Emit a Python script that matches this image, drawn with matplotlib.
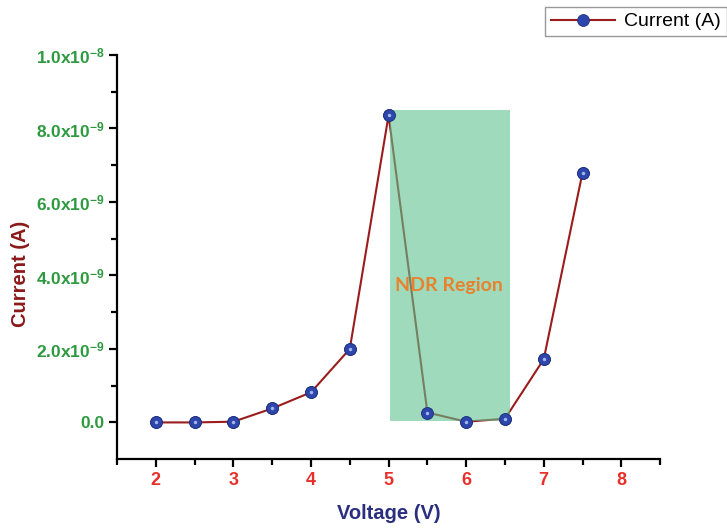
import matplotlib
matplotlib.use('Agg')
import matplotlib.pyplot as plt
from matplotlib.ticker import MultipleLocator, FixedLocator
from matplotlib.patches import Rectangle

plt.rcParams['font.family'] = ['Liberation Sans', 'DejaVu Sans']
plt.rcParams['mathtext.fontset'] = 'custom'
plt.rcParams['mathtext.rm'] = 'Liberation Sans'
plt.rcParams['mathtext.bf'] = 'Liberation Sans:bold'

# data
voltage = [2.0, 2.5, 3.0, 3.5, 4.0, 4.5, 5.0, 5.5, 6.0, 6.5, 7.0, 7.5]
current = [0.0, 0.0, 0.02e-9, 0.38e-9, 0.82e-9, 2.0e-9, 8.36e-9,
           0.27e-9, 0.02e-9, 0.10e-9, 1.72e-9, 6.8e-9]
ndr_span = [5.02, 6.57]
ndr_current = [0.03e-9, 8.5e-9]
ytick_vals = [0.0, 2e-9, 4e-9, 6e-9, 8e-9, 1e-8]
ytick_labels = ['0.0', r'$\mathbf{2.0x10^{-9}}$', r'$\mathbf{4.0x10^{-9}}$',
                r'$\mathbf{6.0x10^{-9}}$', r'$\mathbf{8.0x10^{-9}}$',
                r'$\mathbf{1.0x10^{-8}}$']
xtick_vals = [2, 3, 4, 5, 6, 7, 8]

fig = plt.figure(figsize=(7.27, 5.29), dpi=100)
ax = fig.add_axes([0.161, 0.132, 0.747, 0.764])

line_red = '#9a1c1c'
ax.plot(voltage, current, color=line_red, lw=1.5, zorder=2, label='Current (A)',
        marker='o', markersize=8.5, markerfacecolor='#2d46ab', markeredgecolor='#1f2f80',
        markeredgewidth=0.6)

# NDR shaded region, drawn over the line but under the markers
ax.add_patch(Rectangle((ndr_span[0], ndr_current[0]), ndr_span[1] - ndr_span[0],
                       ndr_current[1] - ndr_current[0], facecolor='#5ec28f',
                       alpha=0.6, edgecolor='none', zorder=3))
ax.plot(voltage, current, ls='none', marker='o', markersize=8.5,
        markerfacecolor='#2d46ab', markeredgecolor='#1f2f80', markeredgewidth=0.6, zorder=4)
ax.plot(voltage, current, ls='none', marker='o', markersize=2.5,
        markerfacecolor='#a5b5ec', markeredgecolor='none', zorder=5)

ax.text(5.78, 3.72e-9, 'NDR Region', color='#e8822c', fontsize=14, fontweight='bold',
        family=['Lato', 'DejaVu Sans'], ha='center', va='center', zorder=6)

ax.set_xlim(1.5, 8.5)
ax.set_ylim(-1.0e-9, 1.0e-8)

ax.spines['top'].set_visible(False)
ax.spines['right'].set_visible(False)
ax.spines['left'].set_linewidth(1.6)
ax.spines['bottom'].set_linewidth(1.6)

ax.xaxis.set_major_locator(FixedLocator(xtick_vals))
ax.xaxis.set_minor_locator(MultipleLocator(0.5))
ax.set_yticks(ytick_vals)
ax.set_yticklabels(ytick_labels)
ax.yaxis.set_minor_locator(FixedLocator([1e-9, 3e-9, 5e-9, 7e-9, 9e-9]))

ax.tick_params(axis='both', which='major', direction='out', length=6, width=1.6)
ax.tick_params(axis='both', which='minor', direction='out', length=4, width=1.6)
ax.tick_params(axis='x', labelcolor='#e8302a', labelsize=13, pad=3)
ax.tick_params(axis='y', labelcolor='#2e9a40', labelsize=12.5, pad=3)
for lbl in ax.get_xticklabels() + ax.get_yticklabels():
    lbl.set_fontweight('bold')

ax.set_xlabel('Voltage (V)', color='#2b2f80', fontsize=14.5, fontweight='bold')
ax.set_ylabel('Current (A)', color='#8b1a1a', fontsize=14.5, fontweight='bold')
ax.xaxis.set_label_coords(0.5, -0.112)
ax.yaxis.set_label_coords(-0.16, 0.458)

handles, labels = ax.get_legend_handles_labels()
leg = fig.legend(handles, labels, loc='upper right', bbox_to_anchor=(1.0, 0.987),
                 fontsize=14, frameon=True, fancybox=False, edgecolor='#808080',
                 handlelength=3.3, borderpad=0.3, borderaxespad=0, handletextpad=0.5)
leg.get_frame().set_linewidth(1.0)

fig.savefig('out.png', dpi=100)
